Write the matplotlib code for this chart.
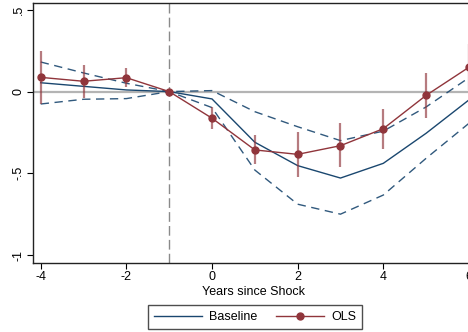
import numpy as np
import matplotlib.pyplot as plt
from matplotlib.lines import Line2D

# values
years = [-4, -3, -2, -1, 0, 1, 2, 3, 4, 5, 6]
base = [0.054, 0.032, 0.010, 0.0, -0.045, -0.310, -0.453, -0.529, -0.439, -0.255, -0.051]
base_hi = [0.181, 0.114, 0.051, 0.0, 0.006, -0.123, -0.215, -0.300, -0.242, -0.094, 0.085]
base_lo = [-0.076, -0.047, -0.043, 0.0, -0.098, -0.480, -0.689, -0.750, -0.633, -0.408, -0.194]
ols = [0.087, 0.063, 0.085, 0.0, -0.163, -0.357, -0.384, -0.331, -0.227, -0.023, 0.149]
ols_hi = [0.248, 0.163, 0.143, 0.0, -0.096, -0.266, -0.245, -0.194, -0.104, 0.114, 0.29]
ols_lo = [-0.076, -0.041, 0.026, 0.0, -0.231, -0.445, -0.521, -0.459, -0.351, -0.159, 0.01]
yticks = [-1, -0.5, 0, 0.5]
ytick_labels = ['-1', '-.5', '0', '.5']

navy = '#1a476f'
maroon = '#90353b'

plt.rcParams['font.family'] = ['Liberation Sans', 'DejaVu Sans']
fs = 9

fig = plt.figure(figsize=(4.68, 3.32), dpi=100)
fig.patch.set_facecolor('white')
# axes run a bit past the right edge, like the cropped original
ax = fig.add_axes([0.0705, 0.2087, 0.9407, 0.7823])

# reference lines
ax.axhline(0, color='#b4b4b4', linewidth=1.6, zorder=1)
ax.axvline(-1, color='#8a8a8a', linewidth=1.0, dashes=(7, 3), zorder=1)

# baseline and its band
ax.plot(years, base, color=navy, linewidth=1.0, zorder=3)
ax.plot(years, base_hi, color=navy, alpha=0.9, linewidth=1.0, dashes=(6, 4), zorder=3)
ax.plot(years, base_lo, color=navy, alpha=0.9, linewidth=1.0, dashes=(6, 4), zorder=3)

# OLS with CI bars
x = np.array(years)
hi = np.array(ols_hi)
lo = np.array(ols_lo)
m = hi != lo
ax.vlines(x[m], lo[m], hi[m], color=maroon, alpha=0.65, linewidth=1.6, zorder=4)
ax.plot(years, ols, color=maroon, linewidth=1.0, marker='o', markersize=5, zorder=5)

ax.set_xlim(-4.18, 6.1)
ax.set_ylim(-1.047, 0.542)
ax.set_xticks([-4, -2, 0, 2, 4, 6])
ax.set_xticklabels(['-4', '-2', '0', '2', '4', '6'], fontsize=fs)
ax.set_yticks(yticks)
ax.set_yticklabels(ytick_labels, fontsize=fs, rotation=90, va='center')
ax.tick_params(length=4, width=0.8, color='black', pad=2)
ax.set_xlabel('Years since Shock', fontsize=fs, labelpad=2)
for s in ax.spines.values():
    s.set_linewidth(1.0)
    s.set_color('#222222')

handles = [
    Line2D([], [], color=navy, linewidth=1.0),
    Line2D([], [], color=maroon, linewidth=1.0, marker='o', markersize=5),
]
fig.legend(handles, ['Baseline', 'OLS'], loc='center', bbox_to_anchor=(255 / 468, 1 - 317 / 332),
           ncol=2, fontsize=fs, frameon=True, fancybox=False, edgecolor='#222222',
           handlelength=3.8, handletextpad=0.6, columnspacing=1.5, borderpad=0.5)

fig.savefig('out.png', dpi=100)
